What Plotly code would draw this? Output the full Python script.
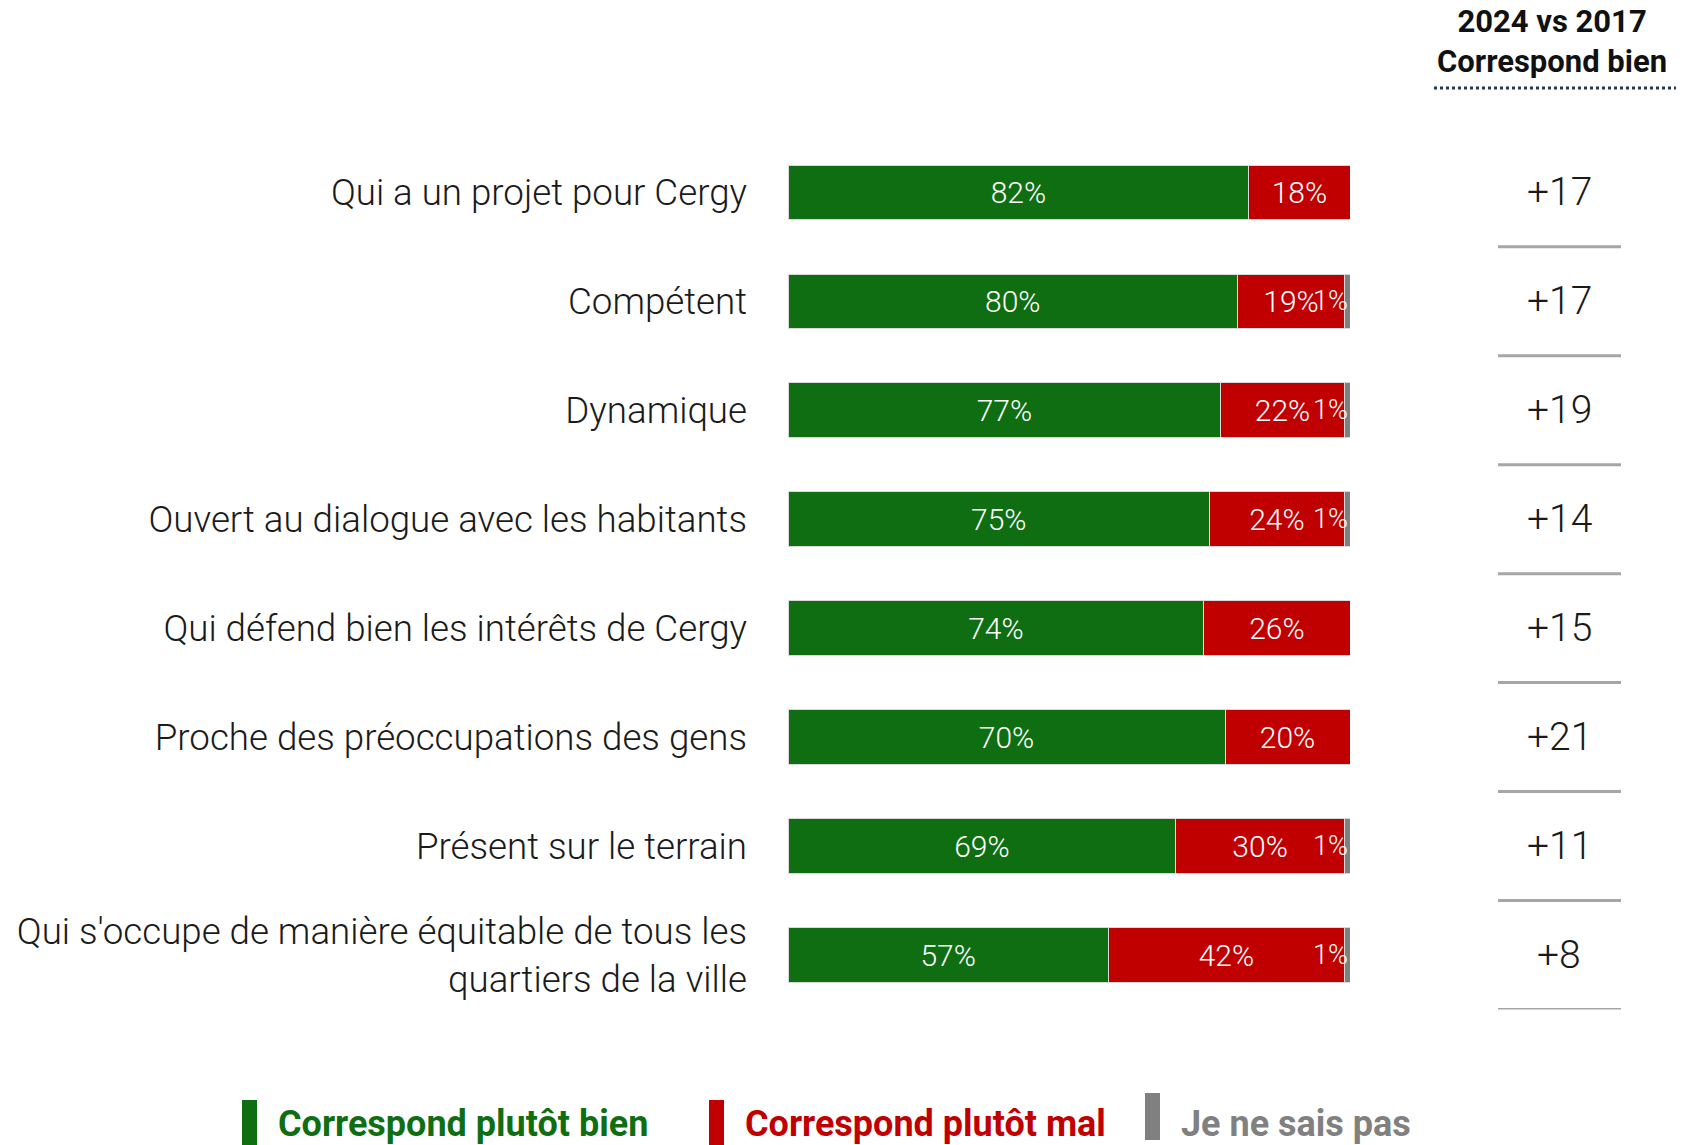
import plotly.graph_objects as go

# Données
categories = [
    "Qui a un projet pour Cergy",
    "Compétent",
    "Dynamique",
    "Ouvert au dialogue avec les habitants",
    "Qui défend bien les intérêts de Cergy",
    "Proche des préoccupations des gens",
    "Présent sur le terrain",
    "Qui s'occupe de manière équitable de tous les<br>quartiers de la ville",
]
bien = [82, 80, 77, 75, 74, 70, 69, 57]
mal = [18, 19, 22, 24, 26, 20, 30, 42]
nsp = [0, 1, 1, 1, 0, 0, 1, 1]
evolution = ["+17", "+17", "+19", "+14", "+15", "+21", "+11", "+8"]

series_names = ["Correspond plutôt bien", "Correspond plutôt mal", "Je ne sais pas"]
colors = ["#0F6E12", "#C00000", "#808080"]

W, H = 1694, 1145
OFF = 8  # marge par défaut du <body> dans la page html
FONT = "Roboto"


def px(x):
    return (x - OFF) / W


def py(y):
    return 1 - (y - OFF) / H


fig = go.Figure()

for vals, name, col, show_text in [(bien, series_names[0], colors[0], True),
                                   (mal, series_names[1], colors[1], True),
                                   (nsp, series_names[2], colors[2], False)]:
    fig.add_trace(go.Bar(
        y=categories,
        x=vals,
        orientation='h',
        name=name,
        marker=dict(color=col, line=dict(color='#D9D9D9', width=1)),
        text=[f"{v}%" for v in vals] if show_text else None,
        textposition='inside' if show_text else 'none',
        insidetextanchor='middle',
        textfont=dict(family=FONT, size=30, color='white', weight=300),
        constraintext='none',
        hoverinfo='skip',
    ))

# Étiquettes "1%" pour les "Je ne sais pas" (collées à droite de la barre)
for cat, v in zip(categories, nsp):
    if v > 0:
        fig.add_annotation(x=100, y=cat, xref='x', yref='y', text=f"{v}%",
                           xanchor='right', yanchor='middle', showarrow=False,
                           font=dict(family=FONT, size=27, color='white', weight=300))

# Colonne de droite : évolution 2024 vs 2017
for i, (cat, d) in enumerate(zip(categories, evolution)):
    fig.add_annotation(x=px(1559), y=cat, xref='paper', yref='y', text=d,
                       xanchor='center', yanchor='middle', showarrow=False,
                       font=dict(family=FONT, size=39, color='#1A1A1A', weight=300))
    fig.add_shape(type='line', xref='paper', yref='y',
                  x0=px(1498), x1=px(1621), y0=i + 0.5, y1=i + 0.5,
                  line=dict(color='#A6A6A6', width=3))

fig.add_annotation(x=px(1552), y=py(41), xref='paper', yref='paper',
                   text="<b>2024 vs 2017<br>Correspond bien</b>",
                   xanchor='center', yanchor='middle', showarrow=False,
                   font=dict(family=FONT, size=31, color='#111111'))
fig.add_shape(type='line', xref='paper', yref='paper',
              x0=px(1434), x1=px(1676), y0=py(88), y1=py(88),
              line=dict(color='#1F3A4D', width=3, dash='dot'))

# Légende manuelle en bas
leg_x = [242, 709, 1145]
leg_top = [1100, 1100, 1093]
for name, col, x0, top in zip(series_names, colors, leg_x, leg_top):
    fig.add_shape(type='rect', xref='paper', yref='paper',
                  x0=px(x0), x1=px(x0 + 15), y0=py(top + 47), y1=py(top),
                  fillcolor=col, line=dict(width=0))
    fig.add_annotation(x=px(x0 + 34), y=py(1124), xref='paper', yref='paper',
                       text=f"<b>{name}</b>", xanchor='left', yanchor='middle',
                       showarrow=False,
                       font=dict(family=FONT, size=36, color=col))

fig.update_layout(
    width=W, height=H,
    barmode='stack', barnorm='percent', bargap=0.5,
    showlegend=False,
    plot_bgcolor='white', paper_bgcolor='white',
    margin=dict(l=0, r=0, t=0, b=0),
    font=dict(family=FONT),
    xaxis=dict(domain=[px(788), px(1350)], range=[0, 100], visible=False),
    yaxis=dict(domain=[py(1009.5), py(137.8)],
               range=[7.5, -0.5], showgrid=False, zeroline=False, showline=False,
               ticks='', automargin=False, ticklabelstandoff=40,
               tickfont=dict(family=FONT, size=36.7, color='#1A1A1A', weight=300)),
)

fig.write_html("out.html")
